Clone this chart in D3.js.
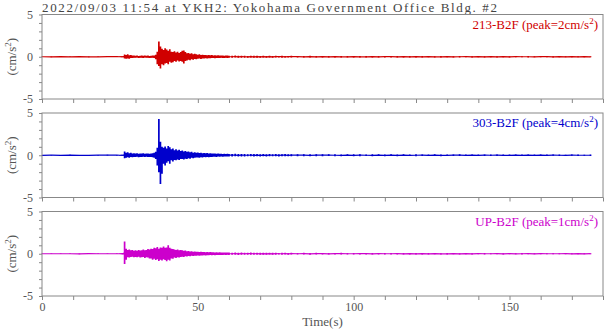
<!DOCTYPE html>
<html>
<head>
<meta charset="utf-8">
<title>YKH2</title>
<script src="https://d3js.org/d3.v7.min.js"></script>
<style>
*{margin:0;padding:0;}
body{background:#fff;}
svg{display:block;font-family:"Liberation Serif","DejaVu Serif",serif;}
</style>
</head>
<body>
<script>

var title = "2022/09/03 11:54 at YKH2: Yokohama Government Office Bldg. #2";
var channels = ["213-B2F", "303-B2F", "UP-B2F"];
var peaks = [2, 4, 1];
var colors = ["#d00000", "#0000cc", "#cc00cc"];
var xTicks = [0,10,20,30,40,50,60,70,80,90,100,110,120,130,140,150,160,170,180];
var xLabels = [0, 50, 100, 150];
var yTicks = [-5,-4,-3,-2,-1,0,1,2,3,4,5];
var yLabels = [-5, 0, 5];

// sample times (s)
var time = [0,3,6,9,12,15,18,21,24,
	25,25.5,26,26.5,27,27.5,28,28.5,29,29.5,
	30,30.5,31,31.5,32,32.5,33,33.5,34,34.5,
	35,35.5,36,36.5,37,37.5,38,38.5,39,39.5,
	40,40.5,41,41.5,42,42.5,43,43.5,44,44.5,
	45,45.5,46,46.5,47,47.5,48,48.5,49,49.5,
	50,50.5,51,51.5,52,52.5,53,53.5,54,54.5,
	55,55.5,56,56.5,57,57.5,58,58.5,59,59.5,
	60,
	61,62,63,64,65,66,67,68,69,70,
	71,72,73,74,75,76,77,78,79,80,
	82,84,86,88,90,92,94,96,
	98,100,102,104,106,108,110,112,
	114,116,118,120,122,124,126,128,
	130,132,134,136,138,140,142,144,
	146,148,150,152,154,156,158,160,
	162,164,166,168,170,172,174,176];

// 213-B2F envelope (cm/s2)
var hi213 = [0.04,0.03,0.04,0.03,0.05,0.04,0.03,0.04,0.05,
	0.04,0.05,0.06,0.28,0.22,0.3,0.18,0.2,0.14,0.15,
	0.12,0.15,0.1,0.13,0.16,0.11,0.14,0.12,0.15,0.1,
	0.12,0.14,0.16,0.25,0.6,1.8,1.2,0.95,0.8,1.0,
	0.85,0.7,0.9,0.6,0.55,0.65,0.5,0.6,0.45,0.55,
	0.7,0.75,0.55,0.4,0.45,0.35,0.4,0.3,0.35,0.3,
	0.25,0.3,0.22,0.25,0.2,0.22,0.18,0.2,0.17,0.2,
	0.16,0.18,0.15,0.17,0.14,0.16,0.15,0.13,0.15,0.14,
	0.13,
	0.12,0.14,0.11,0.13,0.12,0.1,0.13,0.11,0.12,0.1,
	0.11,0.1,0.12,0.09,0.11,0.1,0.12,0.09,0.1,0.11,
	0.1,0.09,0.11,0.08,0.1,0.09,0.1,0.08,
	0.09,0.1,0.08,0.09,0.1,0.08,0.09,0.1,
	0.08,0.09,0.08,0.1,0.08,0.09,0.07,0.08,
	0.09,0.07,0.08,0.09,0.07,0.08,0.07,0.09,
	0.07,0.08,0.06,0.08,0.07,0.08,0.06,0.07,
	0.08,0.06,0.07,0.06,0.08,0.06,0.07,0.06];
var lo213 = [-0.04,-0.05,-0.03,-0.04,-0.03,-0.05,-0.04,-0.03,-0.04,
	-0.04,-0.05,-0.05,-0.22,-0.25,-0.2,-0.24,-0.15,-0.16,-0.12,
	-0.12,-0.1,-0.14,-0.11,-0.13,-0.15,-0.1,-0.12,-0.11,-0.14,
	-0.13,-0.12,-0.15,-0.3,-0.9,-1.1,-1.4,-0.9,-1.0,-0.8,
	-0.75,-0.9,-0.6,-0.7,-0.65,-0.5,-0.6,-0.45,-0.55,-0.5,
	-0.6,-0.8,-0.5,-0.45,-0.35,-0.4,-0.3,-0.35,-0.28,-0.3,
	-0.25,-0.22,-0.26,-0.2,-0.22,-0.18,-0.2,-0.17,-0.19,-0.16,
	-0.15,-0.17,-0.14,-0.16,-0.15,-0.13,-0.15,-0.14,-0.12,-0.14,
	-0.13,
	-0.12,-0.1,-0.13,-0.11,-0.12,-0.13,-0.1,-0.12,-0.11,-0.12,
	-0.1,-0.11,-0.09,-0.11,-0.1,-0.09,-0.11,-0.1,-0.09,-0.1,
	-0.09,-0.1,-0.08,-0.1,-0.09,-0.1,-0.08,-0.09,
	-0.1,-0.08,-0.09,-0.1,-0.08,-0.09,-0.08,-0.09,
	-0.09,-0.08,-0.1,-0.08,-0.09,-0.07,-0.08,-0.09,
	-0.07,-0.09,-0.08,-0.07,-0.09,-0.07,-0.08,-0.07,
	-0.08,-0.07,-0.08,-0.06,-0.07,-0.08,-0.07,-0.06,
	-0.07,-0.08,-0.06,-0.07,-0.06,-0.07,-0.06,-0.07];

// 303-B2F envelope
var hi303 = [0.03,0.04,0.03,0.05,0.04,0.03,0.04,0.05,0.04,
	0.04,0.05,0.06,0.45,0.3,0.35,0.25,0.3,0.22,0.25,
	0.2,0.25,0.18,0.22,0.2,0.24,0.18,0.2,0.22,0.19,
	0.22,0.25,0.3,0.4,0.9,4.3,1.6,1.0,0.9,1.05,
	0.8,1.1,0.95,0.7,0.8,0.6,0.7,0.55,0.65,0.5,
	0.55,0.45,0.5,0.4,0.45,0.35,0.4,0.3,0.35,0.3,
	0.32,0.28,0.3,0.25,0.28,0.24,0.26,0.22,0.25,0.2,
	0.2,0.22,0.18,0.2,0.17,0.19,0.16,0.18,0.15,0.17,
	0.16,
	0.15,0.17,0.14,0.16,0.15,0.13,0.16,0.14,0.15,0.13,
	0.14,0.12,0.15,0.13,0.14,0.12,0.13,0.14,0.12,0.13,
	0.12,0.13,0.11,0.12,0.13,0.11,0.12,0.1,
	0.12,0.11,0.12,0.1,0.11,0.12,0.1,0.11,
	0.1,0.11,0.09,0.11,0.1,0.09,0.11,0.1,
	0.09,0.1,0.11,0.09,0.1,0.08,0.1,0.09,
	0.1,0.08,0.09,0.1,0.08,0.09,0.08,0.09,
	0.08,0.09,0.08,0.07,0.09,0.08,0.07,0.08];
var lo303 = [-0.04,-0.03,-0.04,-0.03,-0.05,-0.04,-0.03,-0.04,-0.03,
	-0.04,-0.05,-0.06,-0.35,-0.3,-0.25,-0.3,-0.22,-0.25,-0.2,
	-0.2,-0.18,-0.23,-0.2,-0.22,-0.19,-0.21,-0.18,-0.2,-0.22,
	-0.2,-0.25,-0.3,-0.45,-1.2,-2.0,-3.4,-2.2,-1.0,-1.2,
	-0.9,-0.7,-1.0,-0.6,-0.75,-0.55,-0.6,-0.5,-0.55,-0.45,
	-0.45,-0.5,-0.4,-0.45,-0.35,-0.4,-0.3,-0.35,-0.3,-0.28,
	-0.28,-0.3,-0.25,-0.27,-0.22,-0.25,-0.2,-0.23,-0.2,-0.22,
	-0.19,-0.17,-0.2,-0.16,-0.18,-0.15,-0.17,-0.14,-0.16,-0.15,
	-0.15,
	-0.14,-0.13,-0.16,-0.14,-0.15,-0.13,-0.12,-0.15,-0.13,-0.14,
	-0.13,-0.14,-0.12,-0.13,-0.12,-0.14,-0.12,-0.11,-0.13,-0.12,
	-0.11,-0.12,-0.13,-0.11,-0.12,-0.1,-0.12,-0.11,
	-0.1,-0.12,-0.11,-0.1,-0.12,-0.1,-0.11,-0.1,
	-0.11,-0.09,-0.1,-0.11,-0.09,-0.1,-0.09,-0.11,
	-0.1,-0.09,-0.08,-0.1,-0.09,-0.1,-0.08,-0.09,
	-0.08,-0.09,-0.1,-0.08,-0.09,-0.08,-0.09,-0.08,
	-0.09,-0.07,-0.08,-0.09,-0.07,-0.08,-0.07,-0.08];

// UP-B2F envelope
var hiUP = [0.03,0.04,0.03,0.04,0.03,0.05,0.04,0.03,0.04,
	0.04,0.05,0.08,1.45,0.6,0.45,0.5,0.4,0.45,0.35,
	0.4,0.35,0.45,0.38,0.42,0.5,0.4,0.45,0.55,0.5,
	0.6,0.55,0.7,0.65,0.8,0.6,0.75,0.7,0.85,0.7,
	0.75,1.0,0.7,0.6,0.55,0.5,0.45,0.5,0.4,0.45,
	0.4,0.35,0.38,0.3,0.32,0.28,0.3,0.25,0.28,0.24,
	0.25,0.22,0.24,0.2,0.22,0.19,0.2,0.18,0.2,0.17,
	0.18,0.16,0.17,0.15,0.17,0.14,0.16,0.15,0.14,0.15,
	0.14,
	0.13,0.15,0.12,0.14,0.13,0.12,0.14,0.12,0.13,0.12,
	0.12,0.11,0.13,0.11,0.12,0.1,0.12,0.11,0.1,0.12,
	0.1,0.11,0.09,0.11,0.1,0.09,0.1,0.11,
	0.09,0.1,0.09,0.1,0.08,0.1,0.09,0.08,
	0.09,0.08,0.1,0.08,0.09,0.08,0.09,0.07,
	0.08,0.09,0.07,0.08,0.07,0.09,0.08,0.07,
	0.08,0.07,0.08,0.06,0.08,0.07,0.06,0.07,
	0.07,0.06,0.07,0.08,0.06,0.07,0.06,0.07];
var loUP = [-0.03,-0.04,-0.03,-0.04,-0.05,-0.03,-0.04,-0.03,-0.04,
	-0.04,-0.05,-0.08,-1.2,-0.7,-0.4,-0.45,-0.38,-0.35,-0.4,
	-0.38,-0.42,-0.35,-0.45,-0.4,-0.38,-0.5,-0.42,-0.45,-0.55,
	-0.55,-0.7,-0.6,-0.75,-0.65,-0.85,-0.7,-0.8,-0.65,-0.75,
	-0.9,-0.7,-0.8,-0.55,-0.6,-0.45,-0.5,-0.4,-0.45,-0.38,
	-0.35,-0.38,-0.3,-0.32,-0.28,-0.3,-0.25,-0.27,-0.23,-0.25,
	-0.22,-0.24,-0.2,-0.22,-0.18,-0.2,-0.17,-0.19,-0.16,-0.18,
	-0.16,-0.17,-0.15,-0.16,-0.14,-0.15,-0.14,-0.13,-0.15,-0.13,
	-0.14,
	-0.13,-0.12,-0.14,-0.12,-0.13,-0.11,-0.13,-0.12,-0.11,-0.13,
	-0.11,-0.12,-0.1,-0.12,-0.11,-0.1,-0.12,-0.1,-0.11,-0.1,
	-0.1,-0.09,-0.11,-0.1,-0.09,-0.1,-0.08,-0.1,
	-0.09,-0.1,-0.08,-0.09,-0.1,-0.08,-0.09,-0.08,
	-0.08,-0.09,-0.08,-0.1,-0.08,-0.09,-0.07,-0.08,
	-0.09,-0.07,-0.08,-0.07,-0.09,-0.07,-0.08,-0.07,
	-0.07,-0.08,-0.06,-0.07,-0.08,-0.06,-0.07,-0.06,
	-0.07,-0.06,-0.07,-0.06,-0.07,-0.06,-0.07,-0.06];

var highs = [hi213, hi303, hiUP];
var lows = [lo213, lo303, loUP];

var width = 605;
var height = 334;
var left = 42, right = 603;
var panelTop = 14.5, panelH = 84.5, panelGap = 98.5;
var axisColor = "#888";
var textColor = "#555";

var svg = d3.select("body").append("svg")
	.attr("width", width)
	.attr("height", height);

var x = d3.scaleLinear().domain([0, 180]).range([left, right]);

svg.append("text")
	.attr("x", left)
	.attr("y", 11.5)
	.attr("font-size", 13)
	.attr("fill", "#444")
	.attr("textLength", 455)
	.attr("lengthAdjust", "spacing")
	.text(title);

channels.forEach(function(name, k){
	var top = panelTop + k * panelGap;
	var y = d3.scaleLinear().domain([-5, 5]).range([top + panelH, top]);
	var g = svg.append("g");

	// center trace through the midpoints
	var mid = time.map((t, i) => [t, (highs[k][i] + lows[k][i]) / 2]);
	var line = d3.line().x(d => x(d[0])).y(d => y(d[1]));
	g.append("path")
		.datum(mid)
		.attr("d", line)
		.attr("fill", "none")
		.attr("stroke", colors[k])
		.attr("stroke-width", 1.2);

	// min/max bar for each sample
	var bars = "";
	time.forEach(function(t, i){
		bars += "M" + x(t) + "," + y(highs[k][i]) + "V" + y(lows[k][i]);
	});
	g.append("path")
		.attr("d", bars)
		.attr("fill", "none")
		.attr("stroke", colors[k])
		.attr("stroke-width", 1.7);

	// frame
	g.append("rect")
		.attr("x", left)
		.attr("y", top)
		.attr("width", right - left)
		.attr("height", panelH)
		.attr("fill", "none")
		.attr("stroke", axisColor)
		.attr("stroke-width", 1);

	// y axis
	var ya = g.append("g")
		.attr("transform", "translate(" + left + ",0)")
		.call(d3.axisLeft(y).tickValues(yTicks).tickSize(3).tickPadding(6)
			.tickFormat(d => yLabels.indexOf(d) >= 0 ? d : ""));
	ya.select(".domain").remove();
	ya.selectAll("line").attr("stroke", axisColor);
	ya.selectAll("text").attr("font-size", 12).attr("fill", textColor)
		.attr("font-family", "Liberation Serif");

	// x axis
	var xa = g.append("g")
		.attr("transform", "translate(0," + (top + panelH) + ")")
		.call(d3.axisBottom(x).tickValues(xTicks).tickSize(4).tickPadding(2)
			.tickFormat(d => (k == 2 && xLabels.indexOf(d) >= 0) ? d : ""));
	xa.select(".domain").remove();
	xa.selectAll("line").attr("stroke", axisColor);
	xa.selectAll("text").attr("font-size", 12).attr("fill", textColor)
		.attr("font-family", "Liberation Serif");

	// y label
	var yl = g.append("text")
		.attr("transform", "translate(16," + y(0) + ") rotate(-90)")
		.attr("text-anchor", "middle")
		.attr("font-size", 13)
		.attr("fill", textColor);
	yl.append("tspan").text("(cm/s");
	yl.append("tspan").attr("dy", -5).attr("font-size", 9).text("2");
	yl.append("tspan").attr("dy", 5).text(")");

	// channel label
	var lab = g.append("text")
		.attr("x", 598)
		.attr("y", top + 14)
		.attr("text-anchor", "end")
		.attr("font-size", 13)
		.attr("fill", colors[k]);
	lab.append("tspan").text(name + " (peak=" + peaks[k] + "cm/s");
	lab.append("tspan").attr("dy", -5).attr("font-size", 9).text("2");
	lab.append("tspan").attr("dy", 5).text(")");
});

svg.append("text")
	.attr("x", (left + right) / 2)
	.attr("y", 326)
	.attr("text-anchor", "middle")
	.attr("font-size", 13)
	.attr("fill", textColor)
	.text("Time(s)");

</script>
</body>
</html>
